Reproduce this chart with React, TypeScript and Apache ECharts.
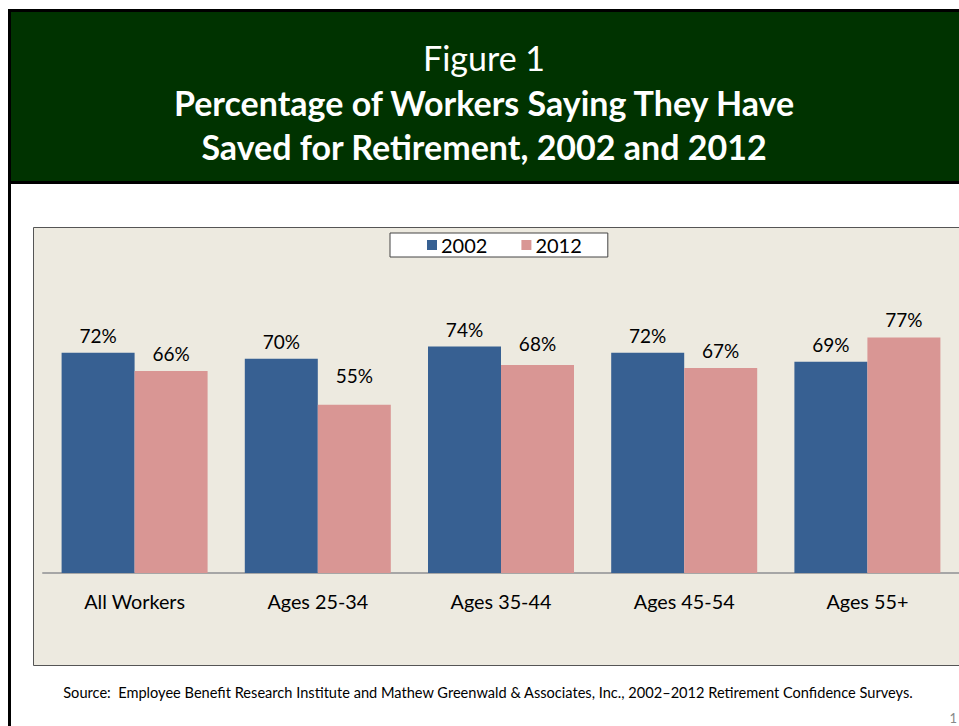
import React, { useEffect, useRef } from "react";
import * as echarts from "echarts";

const categories = ["All Workers", "Ages 25-34", "Ages 35-44", "Ages 45-54", "Ages 55+"];
const values2002 = [72, 70, 74, 72, 69];
const values2012 = [66, 55, 68, 67, 77];
const seriesNames = ["2002", "2012"];
const titleLines = ["Figure 1", "Percentage of Workers Saying They Have", "Saved for Retirement, 2002 and 2012"];
const sourceText =
  "Source:  Employee Benefit Research Institute and Mathew Greenwald & Associates, Inc., 2002\u20132012 Retirement Confidence Surveys.";

const FONT = "Lato, 'Open Sans', sans-serif";

export default function App() {
  const ref = useRef<HTMLDivElement>(null);
  useEffect(() => {
    if (!ref.current) return;
    const chart = echarts.init(ref.current, undefined, { renderer: "svg" });
    const labelStyle = {
      show: true,
      position: "top" as const,
      distance: 8,
      formatter: "{c}%",
      color: "#000",
      fontSize: 19,
      fontFamily: FONT,
    };
    // label placement tweaks mirroring the original's label offsets
    const labelDistance2012 = [8, 20, 12, 8, 8];
    chart.setOption({
      animation: false,
      backgroundColor: "#ffffff",
      textStyle: { fontFamily: FONT },
      graphic: [
        { type: "rect", z: 0, shape: { x: 8, y: 9, width: 3, height: 720 }, style: { fill: "#000" } },
        { type: "rect", z: 0, shape: { x: 8, y: 9, width: 960, height: 3 }, style: { fill: "#000" } },
        { type: "rect", z: 0, shape: { x: 11, y: 12, width: 950, height: 169 }, style: { fill: "#003300" } },
        { type: "rect", z: 0, shape: { x: 11, y: 181, width: 950, height: 3 }, style: { fill: "#000" } },
        {
          type: "rect",
          z: 0,
          shape: { x: 33.5, y: 227.5, width: 1000, height: 438 },
          style: { fill: "#EDEAE0", stroke: "#555555", lineWidth: 1 },
        },
        {
          type: "text",
          z: 5,
          x: 484,
          y: 57,
          style: {
            text: titleLines[0],
            fill: "#ffffff",
            fontSize: 34,
            fontFamily: FONT,
            align: "center",
            verticalAlign: "middle",
          },
        },
        {
          type: "text",
          z: 5,
          x: 484,
          y: 102,
          style: {
            text: titleLines[1],
            fill: "#ffffff",
            fontSize: 34,
            fontWeight: "bold",
            fontFamily: FONT,
            align: "center",
            verticalAlign: "middle",
          },
        },
        {
          type: "text",
          z: 5,
          x: 484,
          y: 146,
          style: {
            text: titleLines[2],
            fill: "#ffffff",
            fontSize: 34,
            fontWeight: "bold",
            fontFamily: FONT,
            align: "center",
            verticalAlign: "middle",
          },
        },
        {
          type: "text",
          z: 5,
          x: 488,
          y: 692,
          style: {
            text: sourceText,
            fill: "#000",
            fontSize: 14.6,
            fontFamily: FONT,
            align: "center",
            verticalAlign: "middle",
          },
        },
        {
          type: "text",
          z: 5,
          x: 957,
          y: 718,
          style: {
            text: "1",
            fill: "#888",
            fontSize: 13,
            fontFamily: FONT,
            align: "right",
            verticalAlign: "middle",
          },
        },
      ],
      legend: {
        data: seriesNames,
        left: 390,
        top: 233,
        backgroundColor: "#ffffff",
        borderColor: "#444444",
        borderWidth: 1,
        padding: [2, 26, 2, 37],
        itemGap: 34,
        itemWidth: 10,
        itemHeight: 10,
        icon: "rect",
        selectedMode: false,
        textStyle: { fontSize: 20, color: "#000", fontFamily: FONT, padding: [0, 0, 0, -1] },
      },
      grid: { left: 43, top: 267, width: 918, height: 306, containLabel: false },
      xAxis: {
        type: "category",
        data: categories,
        axisLine: { show: true, lineStyle: { color: "#A6A6A6", width: 2 } },
        axisTick: { show: false },
        axisLabel: { color: "#000", fontSize: 19.8, fontFamily: FONT, margin: 18 },
      },
      yAxis: {
        type: "value",
        min: 0,
        max: 100,
        show: false,
        splitLine: { show: false },
      },
      series: [
        {
          name: seriesNames[0],
          type: "bar",
          data: values2002,
          barWidth: 73,
          barGap: "0%",
          itemStyle: { color: "#376092" },
          label: labelStyle,
        },
        {
          name: seriesNames[1],
          type: "bar",
          data: values2012.map((v, i) => ({ value: v, label: { distance: labelDistance2012[i] } })),
          barWidth: 73,
          barGap: "0%",
          itemStyle: { color: "#D99694" },
          label: labelStyle,
        },
      ],
    });
    return () => chart.dispose();
  }, []);
  return (
    <div
      ref={ref}
      style={{ position: "absolute", left: 0, top: 0, width: 959, height: 726, overflow: "hidden" }}
    />
  );
}
